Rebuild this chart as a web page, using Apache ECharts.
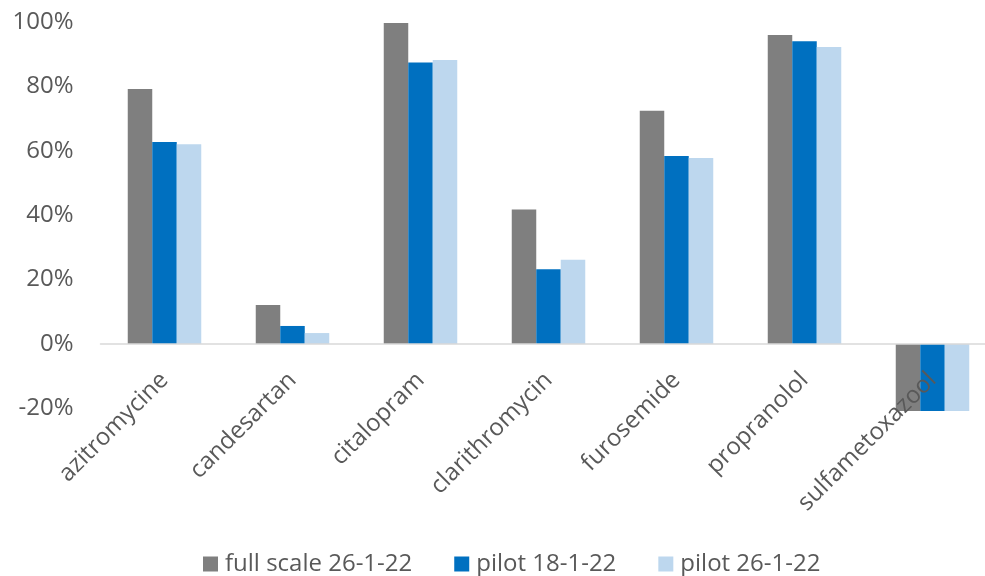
<!DOCTYPE html>
<html>
<head>
<meta charset="utf-8">
<script src="https://cdn.jsdelivr.net/npm/echarts@6/dist/echarts.min.js"></script>
<style>
  html, body { margin: 0; padding: 0; background: #ffffff; overflow: hidden; }
  /* the plot area runs a little past the right edge of the window */
  #chart { width: 1000px; height: 576px; }
</style>
</head>
<body>
<div id="chart"></div>
<script>
// Removal per compound (fraction, shown as %)
const categories = ['azitromycine', 'candesartan', 'citalopram', 'clarithromycin', 'furosemide', 'propranolol', 'sulfametoxazool'];
const seriesNames = ['full scale 26-1-22', 'pilot 18-1-22', 'pilot 26-1-22'];
const fullScale2601 = [0.792, 0.121, 0.997, 0.418, 0.724, 0.960, -0.208];
const pilot1801 = [0.627, 0.056, 0.874, 0.232, 0.584, 0.940, -0.208];
const pilot2601 = [0.620, 0.034, 0.882, 0.262, 0.578, 0.922, -0.208];
const yTicks = [-0.2, 0, 0.2, 0.4, 0.6, 0.8, 1.0];

const colors = ['#7F7F7F', '#0070C0', '#BDD7EE'];
const font = '"Open Sans", Lato, sans-serif';
const textColor = '#595959';

const chart = echarts.init(document.getElementById('chart'), null, { renderer: 'canvas' });

const seriesData = [fullScale2601, pilot1801, pilot2601];

chart.setOption({
  animation: false,
  color: colors,
  textStyle: { fontFamily: font },
  grid: { left: 100.5, right: 3.5, top: 22, bottom: 167.6, containLabel: false },
  legend: {
    data: seriesNames,
    left: 198,
    top: 547,
    icon: 'rect',
    itemWidth: 15,
    itemHeight: 15,
    itemGap: 42,
    textStyle: { fontFamily: font, fontSize: 24, lineHeight: 24, color: textColor, padding: [0, 0, 0, 2] }
  },
  xAxis: {
    type: 'category',
    data: categories,
    z: 5,
    axisTick: { show: false },
    axisLine: { onZero: true, lineStyle: { color: '#D9D9D9', width: 1.5 } },
    axisLabel: {
      interval: 0,
      rotate: 45,
      // labels sit just under the zero line rather than under the plot bottom
      margin: -32,
      fontFamily: font,
      fontSize: 24,
      color: textColor
    },
    splitLine: { show: false }
  },
  yAxis: {
    type: 'value',
    min: yTicks[0],
    max: yTicks[yTicks.length - 1],
    interval: 0.2,
    axisLine: { show: false },
    axisTick: { show: false },
    splitLine: { show: false },
    axisLabel: {
      margin: 27,
      fontFamily: font,
      fontSize: 24,
      color: textColor,
      formatter: v => Math.round(v * 100) + '%'
    }
  },
  series: seriesNames.map((name, i) => ({
    name,
    type: 'bar',
    data: seriesData[i],
    barWidth: 24.5,
    barGap: '0%',
    clip: false,
    itemStyle: { color: colors[i] }
  }))
});
</script>
</body>
</html>
